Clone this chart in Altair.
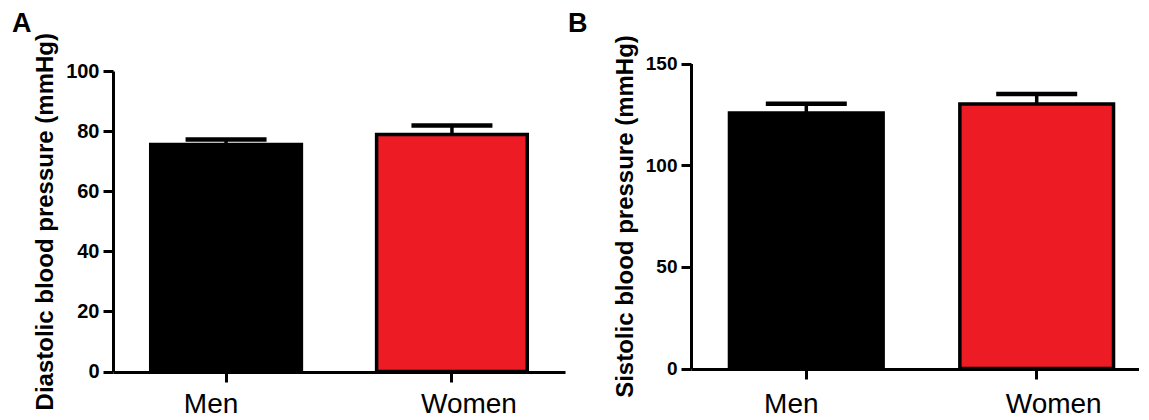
import altair as alt
import pandas as pd

groups = ["Men", "Women"]
diastolic_mean = [75.5, 78.9]
diastolic_upper = [77.2, 81.9]
systolic_mean = [125.7, 130.1]
systolic_upper = [130.2, 135.0]
bar_colors = ["#000000", "#ED1C24"]
diastolic_ticks = [0, 20, 40, 60, 80, 100]
systolic_ticks = [0, 50, 100, 150]

FONT = "Liberation Sans"


def panel(means, uppers, ytitle, ymax, yticks, letter, w, h, yrange, lx, ly,
          label_size, x_label_pad, title_pad):
    df = pd.DataFrame({"group": groups, "mean": means, "upper": uppers,
                       "color": bar_colors})
    xscale = alt.Scale(paddingInner=0.333, paddingOuter=0.167)
    xaxis = alt.Axis(
        title=None, labelAngle=0, labelFont=FONT, labelFontSize=28,
        labelFontWeight="normal", labelColor="black", labelPadding=x_label_pad,
        tickSize=10, tickWidth=3, tickColor="black",
        domainWidth=3, domainColor="black",
        labelOffset={"condition": {"test": "datum.value === 'Men'", "value": -15},
                     "value": 17},
    )
    yaxis = alt.Axis(
        title=ytitle, titleFont=FONT, titleFontSize=24, titleFontWeight="bold",
        titleColor="black", titlePadding=title_pad,
        labelFont=FONT, labelFontSize=label_size, labelFontWeight="bold",
        labelColor="black", labelPadding=4,
        tickSize=10, tickWidth=3, tickColor="black",
        domainWidth=3, domainColor="black", values=yticks, grid=False,
    )
    x = alt.X("group:N", sort=groups, scale=xscale, axis=xaxis)
    y = alt.Y("mean:Q", scale=alt.Scale(domain=[0, ymax], nice=False, range=yrange),
              axis=yaxis)
    base = alt.Chart(df)
    bars = base.mark_bar(stroke="black", strokeWidth=3.5).encode(
        x=x, y=y, color=alt.Color("color:N", scale=None))
    err = base.mark_rule(color="black", strokeWidth=3.5, opacity=1).encode(
        x=alt.X("group:N", sort=groups), y="mean:Q", y2="upper:Q")
    cap = base.mark_tick(color="black", size=81, thickness=4.5, opacity=1).encode(
        x=alt.X("group:N", sort=groups), y="upper:Q")
    lab = alt.Chart(pd.DataFrame({"t": [letter]})).mark_text(
        font=FONT, fontSize=27, fontWeight="bold", align="left",
        baseline="alphabetic", color="black").encode(
        text="t:N", x=alt.value(lx), y=alt.value(ly))
    return alt.layer(bars, err, cap, lab).properties(width=w, height=h)


a = panel(diastolic_mean, diastolic_upper, "Diastolic blood pressure (mmHg)",
          100, diastolic_ticks, "A", 452, 309, [308.5, 8], -101, -31, 20, 8, 8)
b = panel(systolic_mean, systolic_upper, "Sistolic blood pressure (mmHg)",
          150, systolic_ticks, "B", 461, 306, [305.5, 0.5], -123, -31, 19, 11, 8)

chart = alt.hconcat(a, b, spacing=3).configure_view(stroke=None).properties(
    padding={"left": 4, "top": 2, "right": -13, "bottom": 0})

chart.save("out.html", embed_options={"renderer": "svg", "actions": False})
